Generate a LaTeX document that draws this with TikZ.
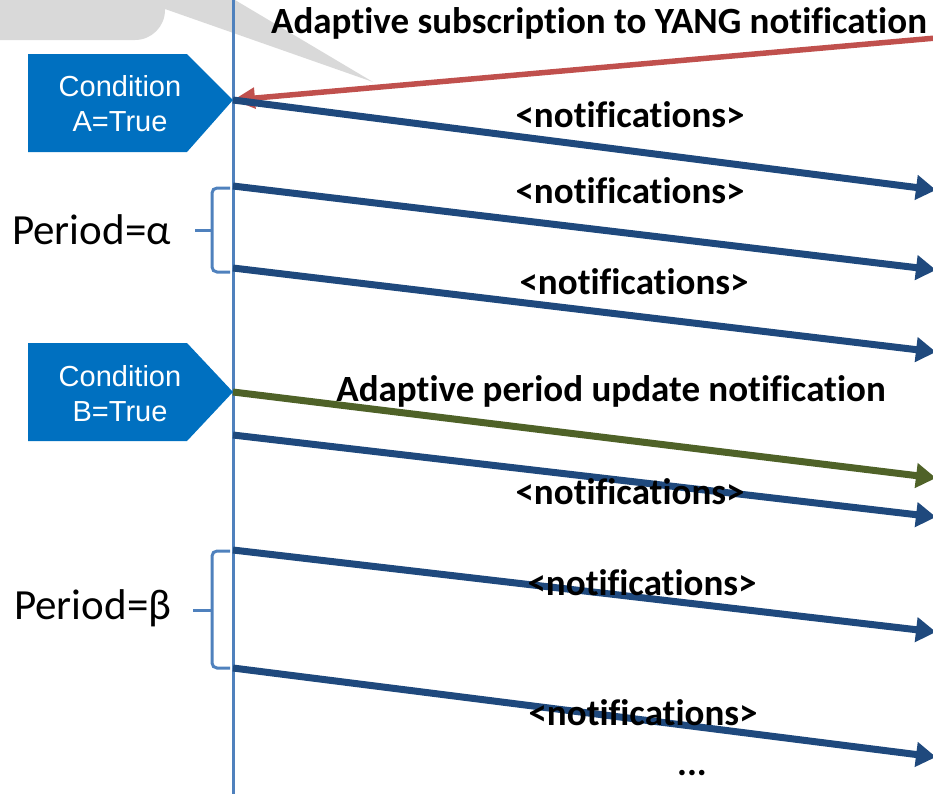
\documentclass[tikz,border=0pt]{standalone}
\usepackage{fontspec}
\setmainfont{Carlito}[Ligatures=NoCommon]
\newfontfamily\arialfont{Liberation Sans}
\usetikzlibrary{arrows.meta}
\definecolor{cblue}{HTML}{0070C0}
\definecolor{nblue}{HTML}{1F497D}
\definecolor{tline}{HTML}{4F81BD}
\definecolor{rred}{HTML}{C0504D}
\definecolor{ggreen}{HTML}{4F6228}
\definecolor{cgray}{HTML}{D9D9D9}
\tikzset{
  notif/.style={draw=nblue, line width=7pt, -{Triangle[length=20pt,width=24pt]}},
  upd/.style={draw=ggreen, line width=7pt, -{Triangle[length=20pt,width=24pt]}},
  subs/.style={draw=rred, line width=5.5pt, -{Triangle[length=22pt,width=20pt]}},
  timeline/.style={draw=tline, line width=3pt},
  bracepath/.style={draw=tline, line width=3pt, rounded corners=5pt},
  lbl/.style={font=\bfseries\fontsize{37}{40}\selectfont, anchor=base, inner sep=0pt},
  ctext/.style={font=\arialfont\fontsize{29}{35}\selectfont, align=center, text=white, inner sep=0pt},
  ptext/.style={font=\fontsize{43}{46}\selectfont, anchor=base west, inner sep=0pt},
  pent/.style={fill=cblue}
}
\begin{document}
\begin{tikzpicture}[x=1pt,y=-1pt]
\useasboundingbox (0,0) rectangle (933,793);
% grey callout (cut off)
\fill[cgray, rounded corners=30pt] (-60,-80) -- (165,-80) -- (165,40) -- (-60,40) -- cycle;
\fill[cgray] (160,9) -- (165,9) -- (373,82) -- (235,0) -- (200,-60) -- (160,-60) -- cycle;
% timeline
\coordinate (ttop) at (233,-5);
\coordinate (tbot) at (233,800);
\draw[timeline] (ttop) -- (tbot);
% condition shapes
\coordinate (tipA) at (233,100);
\coordinate (tipB) at (233,392);
\fill[pent] (28,54) -- (187,54) -- (tipA) -- (187,152) -- (28,152) -- cycle;
\fill[pent] (28,343) -- (187,343) -- (tipB) -- (187,441) -- (28,441) -- cycle;
\node[ctext] (condA) at (120,104) {Condition\\A=True};
\node[ctext] (condB) at (120,394) {Condition\\B=True};
% coordinates
\coordinate (rs) at (936,38);
\coordinate (e1) at (936,190);
\coordinate (s2) at (233,186);
\coordinate (e2) at (936,270);
\coordinate (s3) at (233,268);
\coordinate (e3) at (936,352);
\coordinate (eg) at (936,478);
\coordinate (s5) at (233,435);
\coordinate (e5) at (936,517);
\coordinate (s6) at (233,550);
\coordinate (e6) at (936,632);
\coordinate (s7) at (233,668);
\coordinate (e7) at (936,757);
% arrows
\draw[subs] (rs) -- (tipA);
\draw[notif] (tipA) -- (e1);
\draw[notif] (s2) -- (e2);
\draw[notif] (s3) -- (e3);
\draw[upd] (tipB) -- (eg);
\draw[notif] (s5) -- (e5);
\draw[notif] (s6) -- (e6);
\draw[notif] (s7) -- (e7);
% braces
\draw[bracepath] (230,188) -- (212,188) -- (212,230) -- (212,272) -- (230,272);
\draw[draw=tline, line width=3pt] (195,230) -- (212,230);
\draw[bracepath] (230,551) -- (212,551) -- (212,610) -- (212,668) -- (230,668);
\draw[draw=tline, line width=3pt] (193,610) -- (212,610);
% labels
\node[ptext] (pa) at (12,244) {Period=α};
\node[ptext] (pb) at (14,619) {Period=β};
\node[lbl] (t1) at (599,33) {Adaptive subscription to YANG notification};
\node[lbl] (n1) at (630,127) {<notifications>};
\node[lbl] (n2) at (630,203) {<notifications>};
\node[lbl] (n3) at (634,294) {<notifications>};
\node[lbl] (t2) at (611,401) {Adaptive period update notification};
\node[lbl] (n4) at (630,504) {<notifications>};
\node[lbl] (n5) at (642,595) {<notifications>};
\node[lbl] (n6) at (643,725) {<notifications>};
\node[lbl] (dots) at (692,775) {...};
\end{tikzpicture}
\end{document}
